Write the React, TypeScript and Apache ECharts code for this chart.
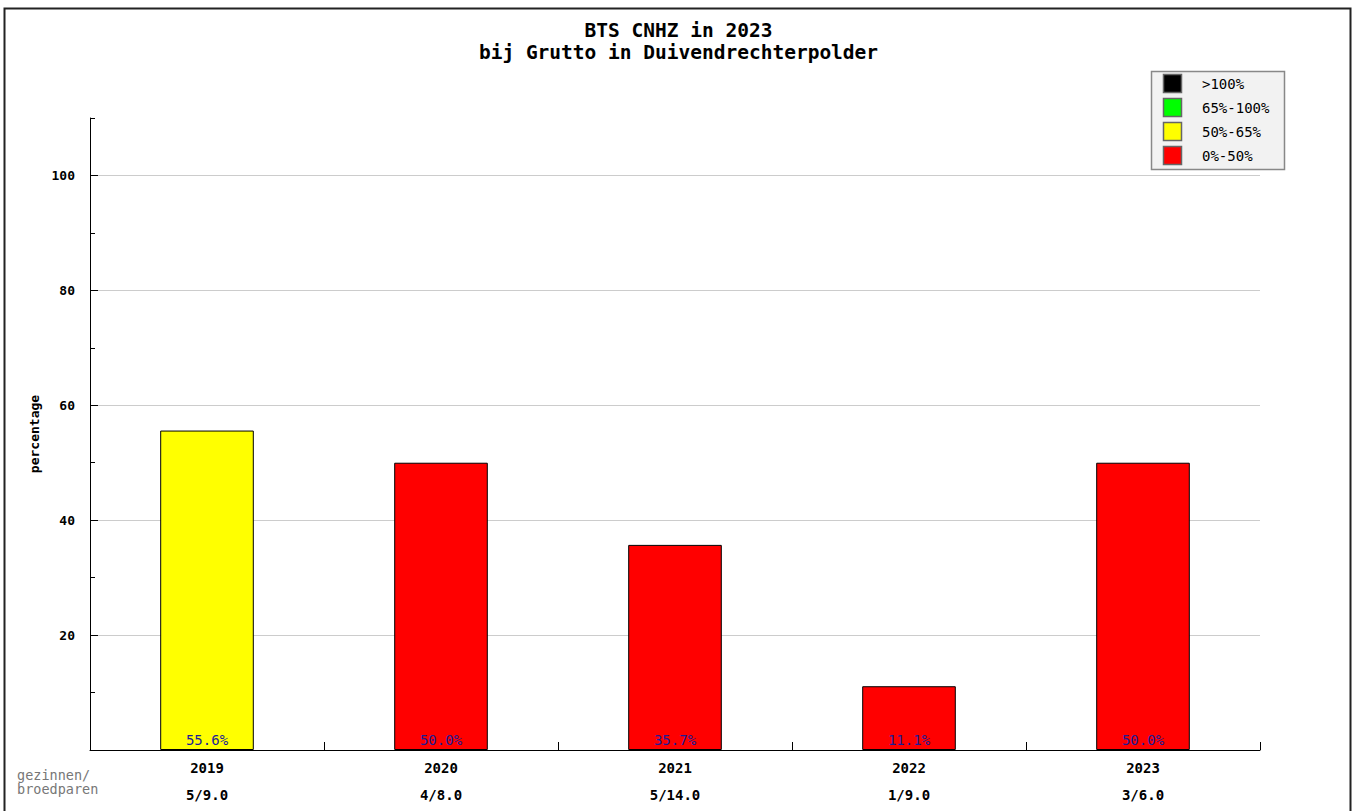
import React, { useEffect, useRef } from "react";
import * as echarts from "echarts";

const titleLines = ["BTS CNHZ in 2023", "bij Grutto in Duivendrechterpolder"];
const years = ["2019", "2020", "2021", "2022", "2023"];
const pairs = ["5/9.0", "4/8.0", "5/14.0", "1/9.0", "3/6.0"];
const percentages = [55.6, 50.0, 35.7, 11.1, 50.0];
const legendLabels = [">100%", "65%-100%", "50%-65%", "0%-50%"];
const legendColors = ["#000000", "#00ff00", "#ffff00", "#ff0000"];
const rowLabel = ["gezinnen/", "broedparen"];
const yName = "percentage";

const MONO = "'DejaVu Sans Mono', 'Liberation Mono', monospace";

function colorFor(v: number): string {
  if (v > 100) return legendColors[0];
  if (v > 65) return legendColors[1];
  if (v > 50) return legendColors[2];
  return legendColors[3];
}

export default function App() {
  const ref = useRef<HTMLDivElement>(null);
  useEffect(() => {
    if (!ref.current) return;
    const chart = echarts.init(ref.current, null, { renderer: "svg" });
    const legendItems: any[] = [];
    legendLabels.forEach((lab, i) => {
      legendItems.push({
        type: "rect",
        shape: { x: 1163.5, y: 74.5 + i * 24, width: 18, height: 18 },
        style: { fill: legendColors[i], stroke: "#666", lineWidth: 1.5 },
      });
      legendItems.push({
        type: "text",
        x: 1202,
        y: 84 + i * 24,
        style: {
          text: lab,
          fill: "#000",
          font: `14px ${MONO}`,
          verticalAlign: "middle",
        },
      });
    });
    chart.setOption({
      animation: false,
      backgroundColor: "#fff",
      title: {
        text: titleLines.join("\n"),
        left: "center",
        top: 14,
        textStyle: { fontFamily: MONO, fontSize: 19.5, fontWeight: "bold", color: "#000", lineHeight: 22 },
      },
      grid: { left: 90, right: 97, top: 118, bottom: 61, containLabel: false },
      xAxis: {
        type: "category",
        data: years,
        boundaryGap: true,
        axisLine: { lineStyle: { color: "#000", width: 1 } },
        axisTick: { show: true, inside: true, length: 8, alignWithLabel: false, lineStyle: { color: "#000" } },
        axisLabel: {
          margin: 4,
          interval: 0,
          formatter: (v: string, i: number) => `{y|${v}}\n{p|${pairs[i]}}`,
          rich: {
            y: { fontFamily: MONO, fontSize: 14, color: "#000", lineHeight: 27, fontWeight: "bold" },
            p: { fontFamily: MONO, fontSize: 14, color: "#000", lineHeight: 27, fontWeight: "bold" },
          },
        },
        splitLine: { show: false },
      },
      yAxis: [
        {
          type: "value",
          min: 0,
          max: 110,
          interval: 20,
          name: yName,
          nameLocation: "middle",
          nameGap: 44,
          nameTextStyle: { fontFamily: MONO, fontSize: 13, color: "#000", fontWeight: "bold" },
          axisLine: { show: true, lineStyle: { color: "#000" } },
          axisTick: { show: true, inside: true, length: 8, lineStyle: { color: "#000" } },
          axisLabel: {
            showMinLabel: false,
            showMaxLabel: false,
            margin: 15,
            fontFamily: MONO,
            fontSize: 13,
            fontWeight: "bold",
            color: "#000",
          },
          splitLine: { show: true, showMinLine: false, showMaxLine: false, lineStyle: { color: "#cccccc", width: 1 } },
        },
        {
          type: "value",
          min: 0,
          max: 110,
          interval: 10,
          position: "left",
          axisLine: { show: false },
          axisTick: { show: true, inside: true, length: 5, lineStyle: { color: "#000" } },
          axisLabel: { show: false },
          splitLine: { show: false },
        },
      ],
      series: [
        {
          type: "bar",
          yAxisIndex: 0,
          barWidth: "40%",
          data: percentages.map((v) => ({
            value: v,
            itemStyle: { color: colorFor(v), borderColor: "#000", borderWidth: 1 },
          })),
          label: {
            show: true,
            position: "insideBottom",
            distance: 3,
            formatter: (p: any) => `${Number(p.value).toFixed(1)}%`,
            fontFamily: MONO,
            fontSize: 14,
            color: "#1c1c96",
          },
        },
      ],
      graphic: [
        {
          type: "rect",
          shape: { x: 4.5, y: 8.5, width: 1346, height: 830 },
          style: { fill: "none", stroke: "#222", lineWidth: 2 },
          silent: true,
        },
        {
          type: "rect",
          shape: { x: 1151.5, y: 71.5, width: 133, height: 98 },
          style: { fill: "#f2f2f2", stroke: "#888", lineWidth: 1.5 },
        },
        ...legendItems,
        {
          type: "text",
          x: 17,
          y: 768,
          style: { text: rowLabel.join("\n"), fill: "#777", font: `13.5px ${MONO}`, lineHeight: 14 },
        },
      ],
    });
    return () => chart.dispose();
  }, []);
  return (
    <div
      ref={ref}
      style={{ position: "absolute", left: 0, top: 0, width: 1357, height: 811 }}
    />
  );
}
